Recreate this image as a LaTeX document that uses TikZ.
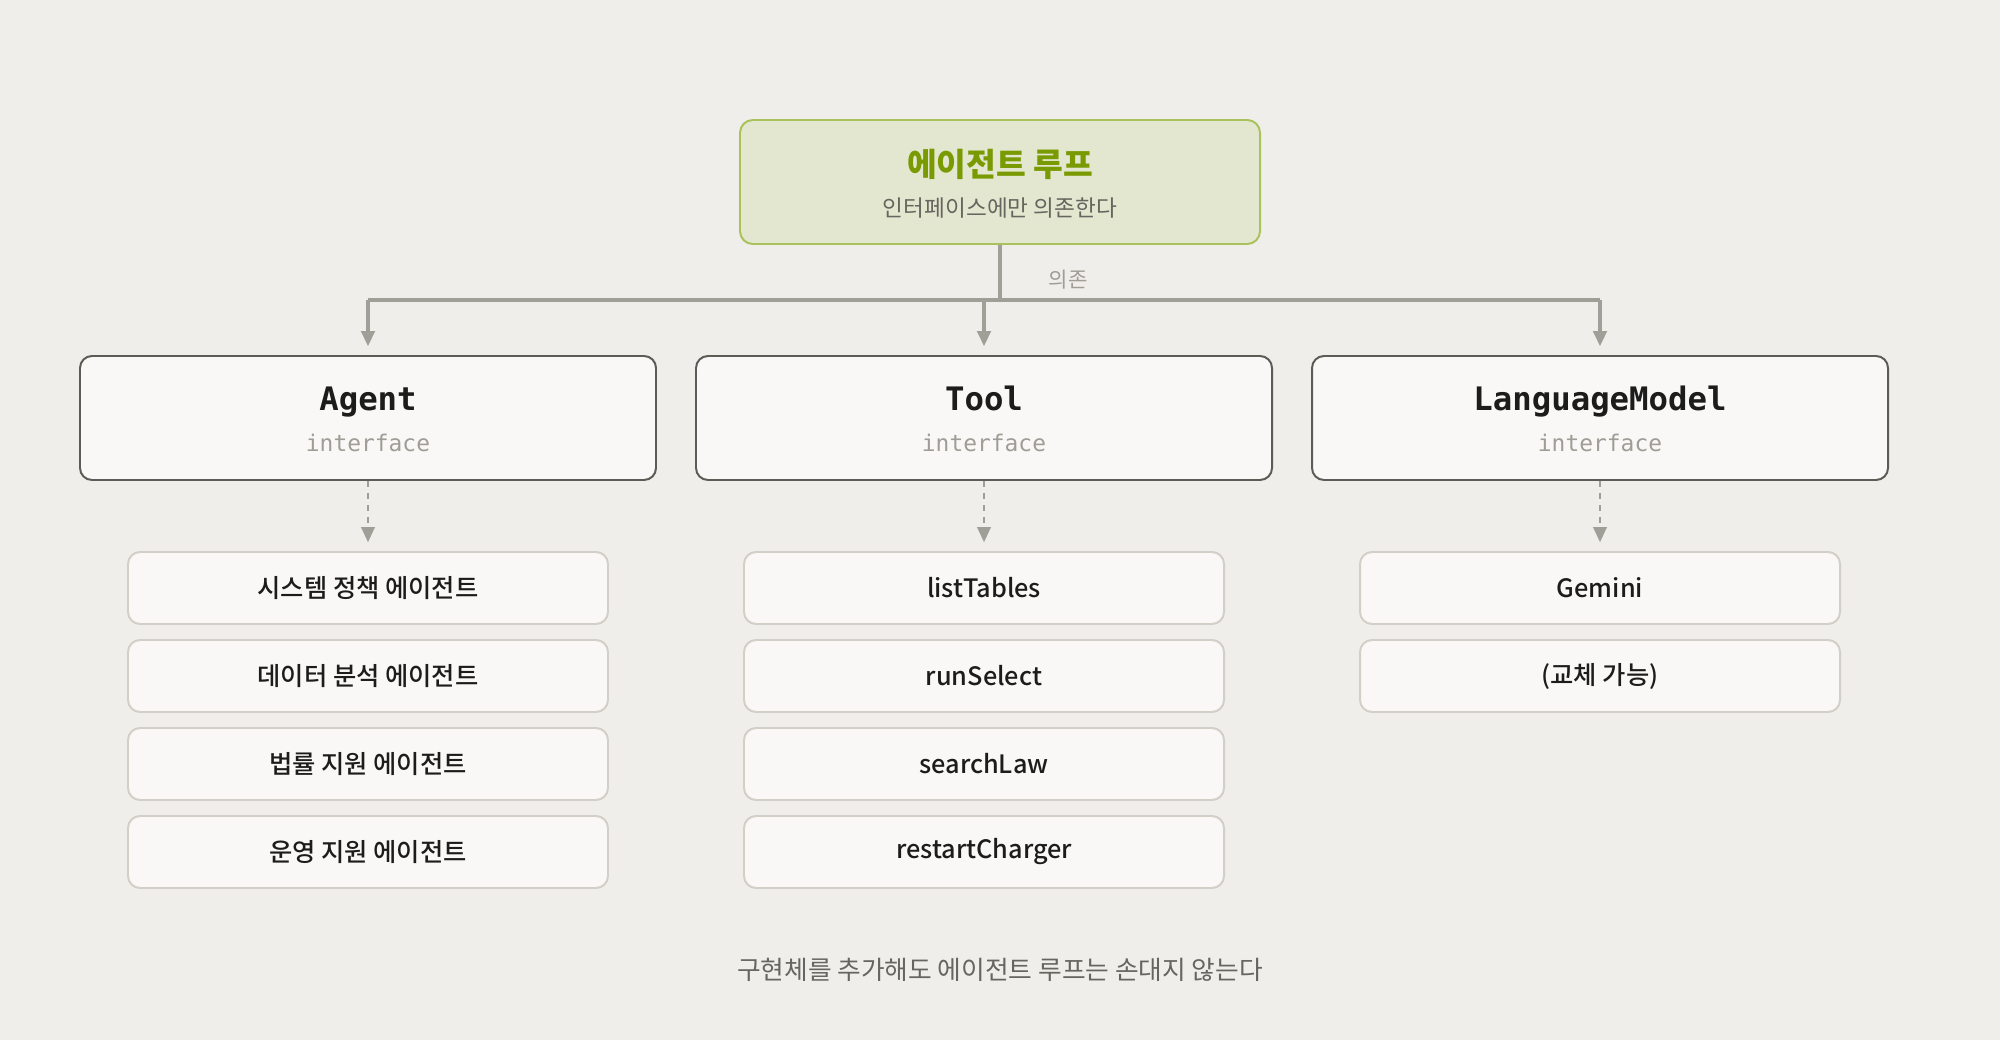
\documentclass[tikz,border=0pt]{standalone}
\usepackage{fontspec}
\setmainfont{Noto Sans CJK KR}
\setmonofont{DejaVu Sans Mono}
\newfontfamily\medfont{Noto Sans CJK KR Medium}
\usetikzlibrary{arrows.meta}

\definecolor{paper}{HTML}{F0EEEA}
\definecolor{loopfill}{HTML}{E3E7CF}
\definecolor{loopline}{HTML}{AAC25C}
\definecolor{loopink}{HTML}{7A9A02}
\definecolor{boxfill}{HTML}{F9F8F6}
\definecolor{ifaceline}{HTML}{5C5B56}
\definecolor{implline}{HTML}{D2CFC8}
\definecolor{connink}{HTML}{A09F97}
\definecolor{softink}{HTML}{9F9D96}
\definecolor{greyink}{HTML}{66655F}
\definecolor{darkink}{HTML}{1C1C1C}

\tikzset{
    loopbox/.style={draw=loopline, fill=loopfill, line width=1.4pt, rounded corners=0.32cm,
        minimum width=13cm, minimum height=3.1cm},
    ifacebox/.style={draw=ifaceline, fill=boxfill, line width=1.4pt, rounded corners=0.3cm,
        minimum width=14.4cm, minimum height=3.1cm},
    implbox/.style={draw=implline, fill=boxfill, line width=1.4pt, rounded corners=0.3cm,
        minimum width=12cm, minimum height=1.8cm, text=darkink,
        font=\fontsize{18}{21}\selectfont\medfont},
    conn/.style={draw=connink, line width=2.2pt},
    dep/.style={conn, -{Triangle[width=0.34cm,length=0.38cm]}, shorten >=0.22cm},
    impl/.style={dep, dash pattern=on 0.15cm off 0.15cm, line width=1.5pt}
}

\begin{document}
\begin{tikzpicture}
    \fill[paper] (0, 0) rectangle (50, 26);
    \useasboundingbox (0, 0) rectangle (50, 26);
    % the loop on top
    \node[loopbox] (loop) at (25, 21.45) {};
    \node[text=loopink, font=\fontsize{23}{27}\selectfont\bfseries] (looptitle) at (25, 21.9) {에이전트 루프};
    \node[text=greyink, font=\fontsize{16.1}{19}\selectfont] (loopnote) at (25, 20.8) {인터페이스에만 의존한다};
    % interfaces
    \foreach \n/\x/\t in {agent/9.2/Agent, tool/24.6/Tool, model/40/LanguageModel} {
        \node[ifacebox] (\n) at (\x, 15.55) {};
        \node[anchor=base, text=darkink, font=\fontsize{23}{27}\selectfont\ttfamily\bfseries] (\n name) at (\x, 15.74) {\t};
        \node[text=softink, font=\fontsize{16.3}{19}\selectfont\ttfamily] (\n kind) at (\x, 14.925) {interface};
    }
    \coordinate (split) at (25, 18.5);
    \draw[conn] (loop.south) -- (split);
    \draw[conn] (split -| agent.north) -- (split -| model.north);
    \foreach \n in {agent, tool, model}
        \draw[dep] (split -| \n.north) -- (\n.north);
    \node[text=softink, font=\fontsize{15}{18}\selectfont] (deplabel) at (26.7, 19.0) {의존};
    % implementations
    \foreach \i/\t in {1/시스템 정책 에이전트, 2/데이터 분석 에이전트, 3/법률 지원 에이전트, 4/운영 지원 에이전트}
        \node[implbox] (agent\i) at (9.2, 13.5 - 2.2*\i) {\t};
    \foreach \i/\t in {1/listTables, 2/runSelect, 3/searchLaw, 4/restartCharger}
        \node[implbox] (tool\i) at (24.6, 13.5 - 2.2*\i) {\t};
    \foreach \i/\t in {1/Gemini, 2/(교체 가능)}
        \node[implbox] (model\i) at (40, 13.5 - 2.2*\i) {\t};
    \draw[impl] (agent.south) -- (agent1.north);
    \draw[impl] (tool.south) -- (tool1.north);
    \draw[impl] (model.south) -- (model1.north);
    % footer
    \node[text=greyink, font=\fontsize{18.3}{21}\selectfont] (footer) at (25, 1.75) {구현체를 추가해도 에이전트 루프는 손대지 않는다};
\end{tikzpicture}
\end{document}
